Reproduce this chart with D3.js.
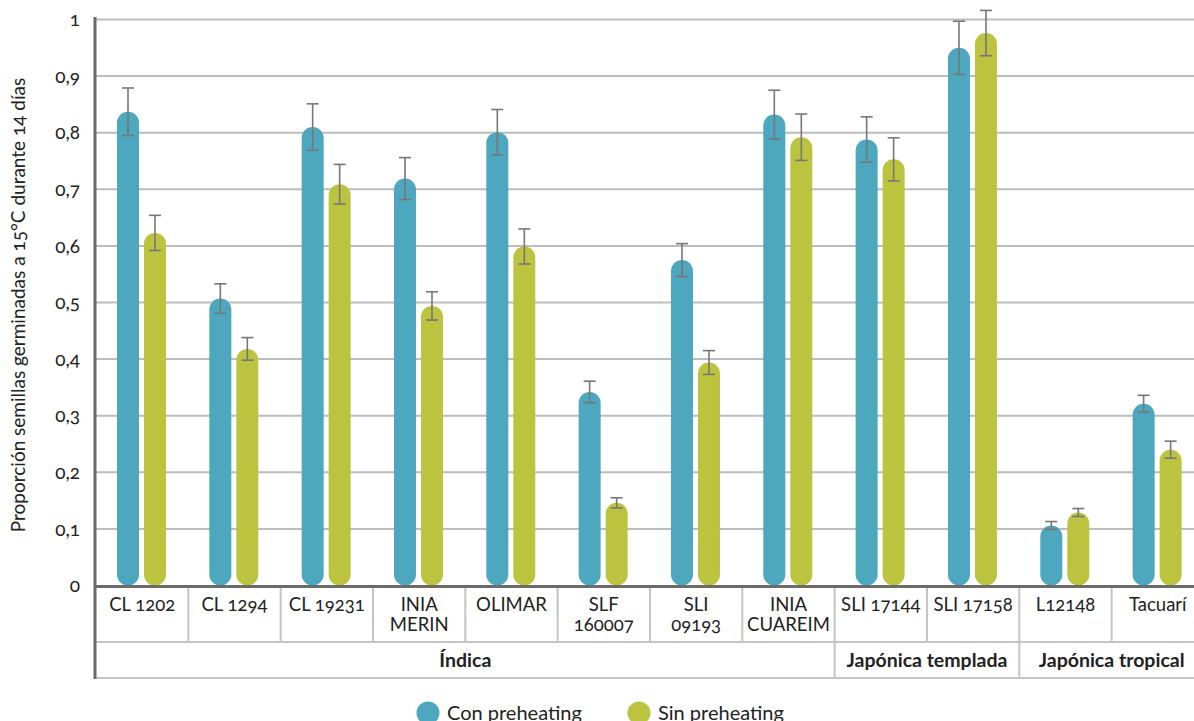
<!DOCTYPE html>
<html>
<head>
<meta charset="utf-8">
<script src="https://cdn.jsdelivr.net/npm/d3@7"></script>
<style>
	body { margin: 0; background: #fff; }
	svg text { font-family: Lato, "Open Sans", sans-serif; fill: #222; font-variant-numeric: oldstyle-nums; }
</style>
</head>
<body>
<svg width="1194" height="721"></svg>
<script>
/**Data**/
var categories = ["CL 1202", "CL 1294", "CL 19231", "INIA\nMERIN", "OLIMAR", "SLF\n160007", "SLI\n09193", "INIA\nCUAREIM", "SLI 17144", "SLI 17158", "L12148", "Tacuarí"];
var conValues = [0.837, 0.507, 0.810, 0.719, 0.801, 0.342, 0.575, 0.832, 0.788, 0.950, 0.106, 0.321];
var sinValues = [0.623, 0.418, 0.709, 0.494, 0.599, 0.146, 0.394, 0.792, 0.753, 0.976, 0.129, 0.240];
var conErr = [0.042, 0.026, 0.041, 0.037, 0.040, 0.019, 0.029, 0.043, 0.040, 0.047, 0.007, 0.015];
var sinErr = [0.031, 0.020, 0.035, 0.025, 0.031, 0.009, 0.021, 0.041, 0.038, 0.040, 0.007, 0.015];
var seriesNames = ["Con preheating", "Sin preheating"];
var seriesColors = ["#4ca7bf", "#bcc43f"];
var groups = [
	{name: "Índica", first: 0, last: 7},
	{name: "Japónica templada", first: 8, last: 9},
	{name: "Japónica tropical", first: 10, last: 11}
];
var yTicks = [0, 0.1, 0.2, 0.3, 0.4, 0.5, 0.6, 0.7, 0.8, 0.9, 1];

/**Initialization**/
var svg = d3.select("svg");
var width = +svg.attr("width");
var height = +svg.attr("height");
var left = 96, yTop = 19.5, base = 585.5;
var row1 = 642, row2 = 678;

var x0 = d3.scaleBand().domain(d3.range(categories.length)).range([left, left + 12 * 92.33]);
var x1 = d3.scaleBand().domain([0, 1]).range([21, 70]).paddingInner(5 / 27);
var y = d3.scaleLinear().domain([0, 1]).range([base, yTop]);

//build the rows for each bar
var bars = [];
categories.forEach(function(c, i) {
	bars.push({cat: i, s: 0, v: conValues[i], e: conErr[i]});
	bars.push({cat: i, s: 1, v: sinValues[i], e: sinErr[i]});
});

//Gridlines
svg.append("g")
	.selectAll("line")
	.data(yTicks.slice(1))
	.enter().append("line")
	.attr("x1", left).attr("x2", width)
	.attr("y1", function(d) { return y(d); })
	.attr("y2", function(d) { return y(d); })
	.attr("stroke", "#bdbdbd")
	.attr("stroke-width", 2);

//Y tick labels
svg.append("g")
	.selectAll("text")
	.data(yTicks)
	.enter().append("text")
	.attr("x", 80)
	.attr("y", function(d) { return y(d); })
	.attr("dy", "0.35em")
	.attr("text-anchor", "end")
	.attr("font-size", 19)
	.text(function(d) { return d === 0 || d === 1 ? String(d) : d3.format(".1f")(d).replace(".", ","); });

//Y axis title
svg.append("text")
	.attr("transform", "translate(25," + 305 + ") rotate(-90)")
	.attr("text-anchor", "middle")
	.attr("font-size", 19)
	.text("Proporción semillas germinadas a 15°C durante 14 días");

//Bars
svg.append("g")
	.selectAll("rect")
	.data(bars)
	.enter().append("rect")
	.attr("x", function(d) { return x0(d.cat) + x1(d.s); })
	.attr("y", function(d) { return y(d.v); })
	.attr("width", x1.bandwidth())
	.attr("height", function(d) { return base - y(d.v); })
	.attr("rx", x1.bandwidth() / 2)
	.attr("fill", function(d) { return seriesColors[d.s]; });

//Error bars
var err = svg.append("g")
	.attr("stroke", "#777")
	.attr("stroke-width", 1.6)
	.selectAll("g")
	.data(bars)
	.enter().append("g")
	.attr("transform", function(d) { return "translate(" + (x0(d.cat) + x1(d.s) + x1.bandwidth() / 2) + ",0)"; });
err.append("line")
	.attr("y1", function(d) { return y(d.v + d.e); })
	.attr("y2", function(d) { return y(d.v - d.e); });
err.append("line")
	.attr("x1", -6).attr("x2", 6)
	.attr("y1", function(d) { return y(d.v + d.e); })
	.attr("y2", function(d) { return y(d.v + d.e); });
err.append("line")
	.attr("x1", -6).attr("x2", 6)
	.attr("y1", function(d) { return y(d.v - d.e); })
	.attr("y2", function(d) { return y(d.v - d.e); });

//Category table
var table = svg.append("g")
	.attr("stroke", "#c4c4c4")
	.attr("stroke-width", 2);
table.append("line").attr("x1", left).attr("x2", width).attr("y1", row1).attr("y2", row1);
table.append("line").attr("x1", left).attr("x2", width).attr("y1", row2).attr("y2", row2);
table.selectAll(".catdiv")
	.data(d3.range(1, categories.length))
	.enter().append("line")
	.attr("x1", function(d) { return x0(d); })
	.attr("x2", function(d) { return x0(d); })
	.attr("y1", base).attr("y2", row1);
table.selectAll(".grpdiv")
	.data(groups.slice(1))
	.enter().append("line")
	.attr("x1", function(d) { return x0(d.first); })
	.attr("x2", function(d) { return x0(d.first); })
	.attr("y1", row1).attr("y2", row2);

//Category labels, split on new lines
var catText = svg.append("g")
	.selectAll("text")
	.data(categories)
	.enter().append("text")
	.attr("text-anchor", "middle")
	.attr("font-size", 18.5)
	.attr("x", function(d, i) { return x0(i) + x0.bandwidth() / 2; })
	.attr("y", 611);
catText.selectAll("tspan")
	.data(function(d, i) { return d.split("\n").map(function(t) { return {t: t, i: i}; }); })
	.enter().append("tspan")
	.attr("x", function(d) { return x0(d.i) + x0.bandwidth() / 2; })
	.attr("dy", function(d, j) { return j === 0 ? 0 : 20; })
	.text(function(d) { return d.t; });

//Group labels
svg.append("g")
	.selectAll("text")
	.data(groups)
	.enter().append("text")
	.attr("text-anchor", "middle")
	.attr("font-size", 19.5)
	.attr("font-weight", "bold")
	.attr("x", function(d) { return (x0(d.first) + x0(d.last) + x0.bandwidth()) / 2; })
	.attr("y", 667)
	.text(function(d) { return d.name; });

//Axes lines
svg.append("line")
	.attr("x1", left).attr("x2", width)
	.attr("y1", base + 1).attr("y2", base + 1)
	.attr("stroke", "#6b6b6b").attr("stroke-width", 3);
svg.append("line")
	.attr("x1", left - 1).attr("x2", left - 1)
	.attr("y1", 17).attr("y2", row2 + 1)
	.attr("stroke", "#6b6b6b").attr("stroke-width", 3);

//Legend
var legendX = [428, 639];
var legend = svg.append("g")
	.selectAll("g")
	.data(seriesNames)
	.enter().append("g")
	.attr("transform", function(d, i) { return "translate(" + legendX[i] + ",713)"; });
legend.append("circle")
	.attr("r", 11.5)
	.attr("fill", function(d, i) { return seriesColors[i]; });
legend.append("text")
	.attr("x", 19)
	.attr("y", 7)
	.attr("font-size", 20)
	.text(function(d) { return d; });
</script>
</body>
</html>
